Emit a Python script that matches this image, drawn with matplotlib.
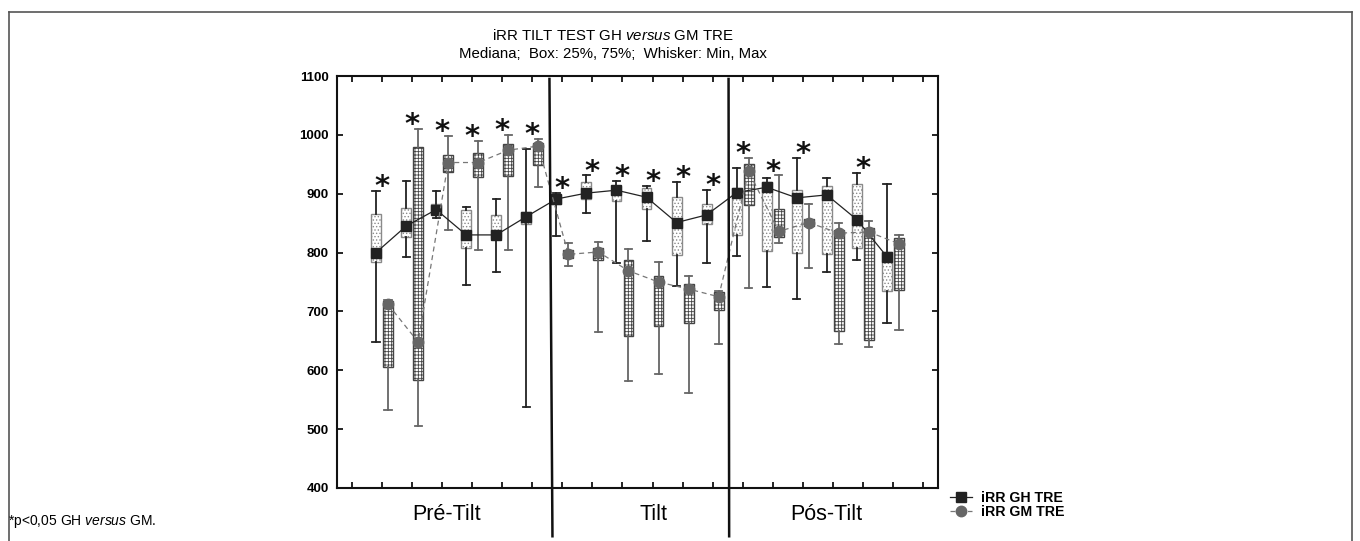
import numpy as np
import matplotlib
matplotlib.use('Agg')
import matplotlib.pyplot as plt
from matplotlib.lines import Line2D

plt.rcParams['font.family'] = ['Liberation Sans', 'DejaVu Sans']
plt.rcParams['mathtext.fontset'] = 'custom'
plt.rcParams['mathtext.rm'] = 'Liberation Sans'
plt.rcParams['mathtext.it'] = 'Liberation Sans:italic'
plt.rcParams['hatch.linewidth'] = 0.6

# dados: min, Q1, mediana, Q3, max (18 momentos)
momentos = list(range(1, 19))
gh_min = [648, 793, 858, 745, 767, 537, 829, 868, 783, 820, 744, 783, 794, 742, 721, 767, 787, 680]
gh_q1 = [784, 827, 865, 807, 824, 848, 882, 891, 888, 874, 796, 848, 830, 803, 800, 798, 807, 735]
gh_med = [800, 845, 873, 830, 830, 861, 891, 901, 906, 894, 851, 864, 902, 911, 893, 898, 856, 793]
gh_q3 = [865, 876, 882, 872, 863, 869, 898, 920, 913, 909, 894, 882, 909, 920, 907, 913, 916, 801]
gh_max = [905, 922, 905, 878, 891, 976, 901, 931, 922, 913, 920, 907, 944, 926, 961, 927, 935, 916]

gm_min = [533, 505, 838, 804, 804, 912, 778, 665, 581, 593, 561, 645, 739, 816, 773, 644, 640, 668]
gm_q1 = [605, 583, 937, 929, 930, 949, 790, 788, 658, 676, 681, 703, 880, 826, 845, 667, 651, 736]
gm_med = [712, 648, 953, 953, 974, 981, 797, 801, 769, 750, 738, 725, 938, 836, 851, 833, 835, 815]
gm_q3 = [718, 979, 966, 969, 984, 987, 804, 807, 787, 760, 747, 733, 950, 874, 857, 839, 842, 825]
gm_max = [720, 1010, 998, 990, 1000, 993, 817, 818, 806, 784, 760, 735, 961, 931, 882, 851, 853, 830]

# momentos com p<0,05
signif = [1, 2, 3, 4, 5, 6, 7, 8, 9, 10, 11, 12, 13, 14, 15, 17]

fases = ['Pré-Tilt', 'Tilt', 'Pós-Tilt']


def stats(mn, q1, med, q3, mx):
    return [dict(whislo=a, q1=b, med=c, q3=d, whishi=e, fliers=[])
            for a, b, c, d, e in zip(mn, q1, med, q3, mx)]


fig = plt.figure(figsize=(13.6, 5.41), dpi=100)
ax = fig.add_axes([337 / 1360, 53 / 541, 601 / 1360, 412 / 541])

x = np.array(momentos, dtype=float)
x_gh = x - 0.2
x_gm = x + 0.2

ax.bxp(stats(gh_min, gh_q1, gh_med, gh_q3, gh_max), positions=x_gh, widths=0.33,
       capwidths=0.24, patch_artist=True, showfliers=False, manage_ticks=False,
       boxprops=dict(facecolor='white', edgecolor='#8a8a8a', hatch='.....', lw=1),
       whiskerprops=dict(color='#222222', lw=1.3),
       capprops=dict(color='#222222', lw=1.3),
       medianprops=dict(lw=0))
ax.bxp(stats(gm_min, gm_q1, gm_med, gm_q3, gm_max), positions=x_gm, widths=0.33,
       capwidths=0.24, patch_artist=True, showfliers=False, manage_ticks=False,
       boxprops=dict(facecolor='white', edgecolor='#444444', hatch='+++++', lw=1),
       whiskerprops=dict(color='#666666', lw=1.3),
       capprops=dict(color='#666666', lw=1.3),
       medianprops=dict(lw=0))

ax.plot(x_gh, gh_med, color='#222222', lw=0.9, marker='s', ms=7.5,
        mfc='#222222', mec='#222222', zorder=5, label='iRR GH TRE')
ax.plot(x_gm, gm_med, color='#777777', lw=0.9, ls=(0, (4, 3)), marker='o', ms=7.5,
        mfc='#666666', mec='#666666', zorder=5, label='iRR GM TRE')

# asteriscos
for m in signif:
    i = m - 1
    top = max(gh_max[i], gm_max[i])
    ax.text(m, top - 7, '*', ha='center', va='baseline', fontsize=21,
            family='DejaVu Sans', fontweight='bold', color='#111111')

# separadores das fases
for xs in [(6.57, 6.67), (12.53, 12.55)]:
    ax.plot(xs, [1095, 318], color='#111111', lw=1.8, clip_on=False, zorder=6)

ax.set_xlim(-0.5, 19.5)
ax.set_ylim(400, 1100)
ax.set_xticks(range(0, 20))
ax.set_xticklabels([])
ax.set_yticks(range(400, 1101, 100))
ax.tick_params(direction='in', top=True, right=True, length=4, width=1.2,
               labelsize=9.5, pad=6)
for lab in ax.get_yticklabels():
    lab.set_fontweight('bold')
for s in ax.spines.values():
    s.set_linewidth(1.5)
    s.set_color('#111111')

# rótulos das fases
for nome, xp in zip(fases, [447, 653, 826]):
    fig.text(xp / 1360, 1 - 514 / 541, nome, ha='center', va='center', fontsize=15.5)

fig.text(613 / 1360, 1 - 36 / 541, r'iRR TILT TEST GH $\it{versus}$ GM TRE',
         ha='center', va='center', fontsize=10.8)
fig.text(613 / 1360, 1 - 54 / 541, 'Mediana;  Box: 25%, 75%;  Whisker: Min, Max',
         ha='center', va='center', fontsize=10.8)

fig.legend(loc='upper left', bbox_to_anchor=(944 / 1360, 1 - 485 / 541),
           frameon=False, prop=dict(weight='bold', size=10.2), handlelength=1.6,
           labelspacing=0.05, borderaxespad=0, handletextpad=0.6)

fig.text(8 / 1360, 1 - 522 / 541, r'*p<0,05 GH $\it{versus}$ GM.', ha='left', va='center',
         fontsize=10, family=['Liberation Sans Narrow', 'Liberation Sans'])

# moldura
for xs, ys in [((9, 1352), (12, 12)), ((9, 9), (12, 541)), ((1352, 1352), (12, 541))]:
    fig.add_artist(Line2D([v / 1360 for v in xs], [1 - v / 541 for v in ys],
                          color='#555555', lw=1.2, transform=fig.transFigure))

fig.savefig('out.png', dpi=100)
